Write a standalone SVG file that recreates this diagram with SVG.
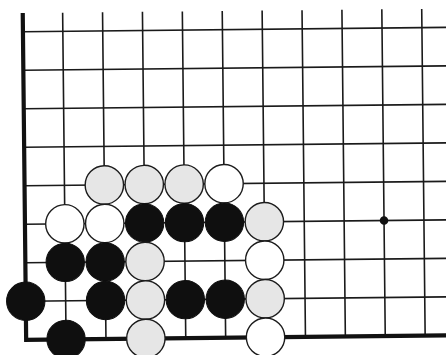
<svg xmlns="http://www.w3.org/2000/svg" width="446" height="355" viewBox="0 0 446 355">
<style>
.ln{stroke:#1a1a1a;stroke-width:1.6;fill:none}
.edge{stroke:#111;stroke-width:4.2;fill:none}
.w{fill:#ffffff;stroke:#1c1c1c;stroke-width:1.4}
.g{fill:#e6e6e6;stroke:#1c1c1c;stroke-width:1.4}
.b{fill:#0f0f0f;stroke:#0f0f0f;stroke-width:1}
</style>
<rect width="446" height="355" fill="#ffffff"/>
<g transform="rotate(-0.6 223 180)">
<g id="grid">
<path class="ln" d="M64.4 11V337.7M104.3 11V337.7M144.2 11V337.7M184.1 11V337.7M224 11V337.7M263.9 11V337.7M303.8 11V337.7M343.7 11V337.7M383.6 11V337.7M423.5 11V337.7"/>
<path class="ln" d="M24.5 29.7H452M24.5 68.2H452M24.5 106.7H452M24.5 145.2H452M24.5 183.7H452M24.5 222.2H452M24.5 260.7H452M24.5 299.2H452"/>
<path class="edge" d="M24.5 11V339.8M22.4 337.7H452"/>
<circle id="hoshi" cx="383.6" cy="222.2" r="4.3" fill="#111"/>
</g>
<g id="stone-c2-r4"><circle class="g" cx="104.3" cy="183.7" r="19.2"/></g>
<g id="stone-c3-r4"><circle class="g" cx="144.2" cy="183.7" r="19.2"/></g>
<g id="stone-c4-r4"><circle class="g" cx="184.1" cy="183.7" r="19.2"/></g>
<g id="stone-c5-r4"><circle class="w" cx="224" cy="183.7" r="19.2"/></g>
<g id="stone-c1-r5"><circle class="w" cx="64.4" cy="222.2" r="19.2"/></g>
<g id="stone-c2-r5"><circle class="w" cx="104.3" cy="222.2" r="19.2"/></g>
<g id="stone-c3-r5"><circle class="b" cx="144.2" cy="222.2" r="19.2"/></g>
<g id="stone-c4-r5"><circle class="b" cx="184.1" cy="222.2" r="19.2"/></g>
<g id="stone-c5-r5"><circle class="b" cx="224" cy="222.2" r="19.2"/></g>
<g id="stone-c6-r5"><circle class="g" cx="263.9" cy="222.2" r="19.2"/></g>
<g id="stone-c1-r6"><circle class="b" cx="64.4" cy="260.7" r="19.2"/></g>
<g id="stone-c2-r6"><circle class="b" cx="104.3" cy="260.7" r="19.2"/></g>
<g id="stone-c3-r6"><circle class="g" cx="144.2" cy="260.7" r="19.2"/></g>
<g id="stone-c6-r6"><circle class="w" cx="263.9" cy="260.7" r="19.2"/></g>
<g id="stone-c0-r7"><circle class="b" cx="24.5" cy="299.2" r="19.2"/></g>
<g id="stone-c2-r7"><circle class="b" cx="104.3" cy="299.2" r="19.2"/></g>
<g id="stone-c3-r7"><circle class="g" cx="144.2" cy="299.2" r="19.2"/></g>
<g id="stone-c4-r7"><circle class="b" cx="184.1" cy="299.2" r="19.2"/></g>
<g id="stone-c5-r7"><circle class="b" cx="224" cy="299.2" r="19.2"/></g>
<g id="stone-c6-r7"><circle class="g" cx="263.9" cy="299.2" r="19.2"/></g>
<g id="stone-c1-r8"><circle class="b" cx="64.4" cy="337.7" r="19.2"/></g>
<g id="stone-c3-r8"><circle class="g" cx="144.2" cy="337.7" r="19.2"/></g>
<g id="stone-c6-r8"><circle class="w" cx="263.9" cy="337.7" r="19.2"/></g>
</g>
</svg>
